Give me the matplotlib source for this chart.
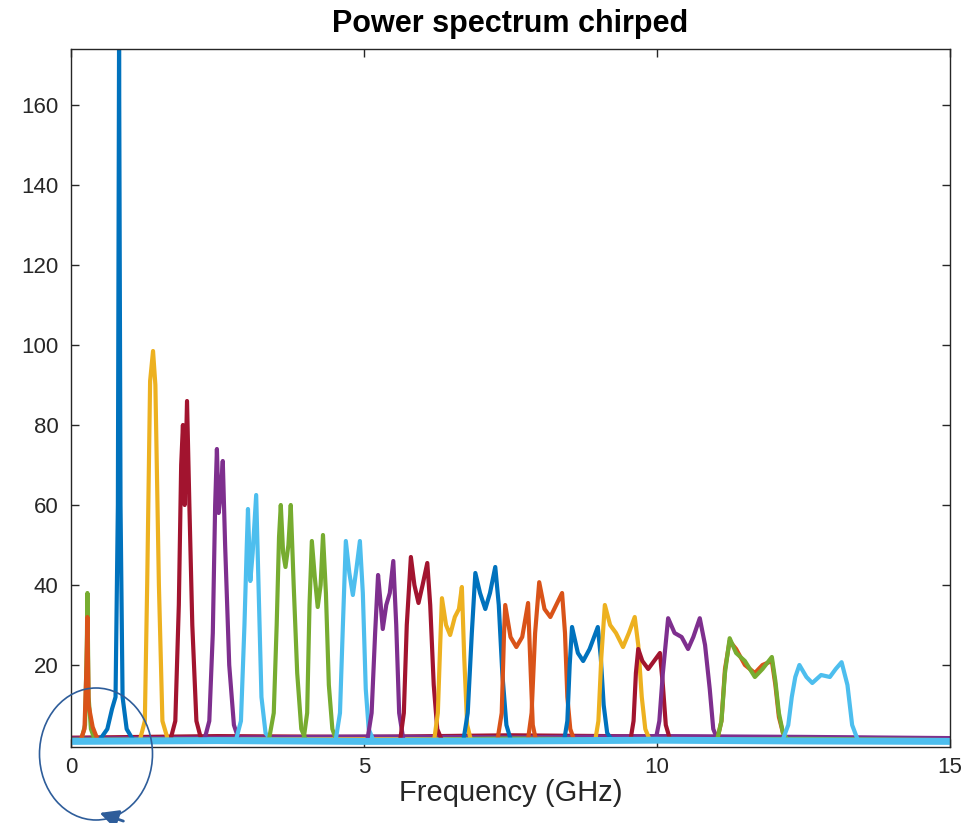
import numpy as np
import matplotlib
matplotlib.use("Agg")
import matplotlib.pyplot as plt
from matplotlib.patches import Ellipse, FancyArrowPatch

plt.rcParams['font.family'] = ['Liberation Sans', 'DejaVu Sans']

# matlab default line colours
blue = '#0072BD'
orange = '#D95319'
yellow = '#EDB120'
purple = '#7E2F8E'
green = '#77AC30'
lblue = '#4DBEEE'
red = '#A2142F'

# spectral bands: frequency (GHz) and power
b01_f = [0.18, 0.24, 0.27, 0.28, 0.30, 0.34, 0.40]
b01_p = [1.5, 5, 25, 38, 12, 4, 1.5]
b02_f = [0.17, 0.23, 0.265, 0.28, 0.30, 0.37, 0.45]
b02_p = [1.5, 4, 20, 32, 10, 4.5, 1.5]
b03_f = [0.50, 0.62, 0.70, 0.76, 0.80, 0.82, 0.845, 0.88, 0.95, 1.05]
b03_p = [1.5, 4, 9, 12, 60, 175, 60, 12, 4, 1.5]
b04_f = [1.18, 1.26, 1.30, 1.35, 1.40, 1.44, 1.50, 1.56, 1.65]
b04_p = [1.5, 6, 40, 91, 98.5, 90, 40, 6, 1.5]
b05_f = [1.70, 1.78, 1.84, 1.88, 1.91, 1.94, 1.98, 2.02, 2.07, 2.14, 2.22]
b05_p = [1.5, 6, 35, 70, 80, 60, 86, 60, 30, 6, 1.5]
b06_f = [2.28, 2.36, 2.42, 2.46, 2.49, 2.52, 2.55, 2.59, 2.63, 2.70, 2.78, 2.86]
b06_p = [1.5, 6, 28, 60, 74, 58, 62, 71, 50, 20, 5, 1.5]
b07_f = [2.82, 2.90, 2.96, 3.00, 3.02, 3.06, 3.10, 3.16, 3.20, 3.25, 3.32, 3.40]
b07_p = [1.5, 6, 30, 50, 59, 41, 48, 62.5, 40, 12, 3, 1.5]
b08_f = [3.38, 3.46, 3.51, 3.55, 3.58, 3.62, 3.66, 3.71, 3.75, 3.80, 3.86, 3.93, 4.00]
b08_p = [1.5, 8, 30, 52, 60, 48, 44.5, 50, 60, 40, 18, 4, 1.5]
b09_f = [3.97, 4.03, 4.07, 4.11, 4.16, 4.21, 4.26, 4.30, 4.35, 4.40, 4.46, 4.52]
b09_p = [1.5, 8, 35, 51, 42, 34.5, 40, 52.5, 38, 15, 4, 1.5]
b10_f = [4.52, 4.59, 4.64, 4.69, 4.75, 4.81, 4.87, 4.93, 4.98, 5.03, 5.08, 5.15]
b10_p = [1.5, 8, 30, 51, 43, 37.5, 44, 51, 38, 14, 4, 1.5]
b11_f = [5.06, 5.13, 5.19, 5.24, 5.28, 5.32, 5.38, 5.44, 5.50, 5.55, 5.60, 5.67]
b11_p = [1.5, 8, 28, 42.5, 36, 29, 35, 38, 46, 30, 8, 1.5]
b12_f = [5.62, 5.68, 5.73, 5.80, 5.86, 5.93, 6.00, 6.08, 6.13, 6.19, 6.25, 6.32]
b12_p = [1.5, 8, 30, 47, 40, 35.5, 40, 45.5, 35, 15, 4, 1.5]
b13_f = [6.20, 6.26, 6.30, 6.33, 6.40, 6.47, 6.55, 6.62, 6.67, 6.71, 6.76, 6.82]
b13_p = [1.5, 8, 25, 36.7, 30, 27.5, 32, 34, 39.5, 22, 5, 1.5]
b14_f = [6.70, 6.77, 6.84, 6.90, 6.98, 7.07, 7.15, 7.24, 7.30, 7.36, 7.43, 7.50]
b14_p = [1.5, 8, 28, 43, 38, 34, 38, 44.5, 35, 18, 5, 1.5]
b15_f = [7.28, 7.35, 7.39, 7.41, 7.50, 7.60, 7.70, 7.80, 7.84, 7.88, 7.93]
b15_p = [1.5, 8, 28, 35, 27, 24.5, 27, 35.5, 20, 5, 1.5]
b16_f = [7.80, 7.86, 7.92, 7.99, 8.08, 8.18, 8.28, 8.38, 8.43, 8.47, 8.52, 8.58]
b16_p = [1.5, 8, 28, 40.7, 34, 32, 35, 38, 28, 12, 4, 1.5]
b17_f = [8.42, 8.47, 8.51, 8.55, 8.65, 8.74, 8.85, 8.99, 9.04, 9.09, 9.15, 9.22]
b17_p = [1.5, 6, 20, 29.5, 23, 21, 24, 29.5, 22, 10, 3, 1.5]
b18_f = [8.95, 9.00, 9.05, 9.11, 9.20, 9.30, 9.42, 9.52, 9.62, 9.68, 9.74, 9.80, 9.87]
b18_p = [1.5, 6, 22, 35, 30, 28, 24.5, 28, 32, 25, 12, 4, 1.5]
b19_f = [9.55, 9.60, 9.64, 9.68, 9.75, 9.85, 9.95, 10.05, 10.10, 10.15, 10.22]
b19_p = [1.5, 6, 18, 24, 21, 19, 21, 23, 15, 5, 1.5]
b20_f = [9.98, 10.04, 10.10, 10.19, 10.30, 10.42, 10.53, 10.62, 10.73, 10.82, 10.90, 10.96, 11.03]
b20_p = [1.5, 6, 18, 31.7, 28, 27, 24, 27, 31.7, 25, 14, 4, 1.5]
b21_f = [11.03, 11.10, 11.16, 11.24, 11.35, 11.50, 11.67, 11.80, 11.96, 12.02, 12.08, 12.15, 12.22]
b21_p = [1.5, 6, 18, 26.7, 23, 21, 17, 19, 22, 16, 8, 3, 1.5]
b22_p = [1.5, 6, 19, 26.0, 24, 20, 18, 20, 21, 15, 7, 3, 1.5]
b23_f = [12.15, 12.24, 12.30, 12.36, 12.43, 12.55, 12.65, 12.80, 12.95, 13.05, 13.15, 13.25, 13.33, 13.42]
b23_p = [1.5, 5, 12, 17, 20, 17, 15.5, 17.5, 17, 19, 20.7, 15, 5, 1.5]

bands = [(b01_f, b01_p, green), (b02_f, b02_p, orange), (b03_f, b03_p, blue),
         (b04_f, b04_p, yellow), (b05_f, b05_p, red), (b06_f, b06_p, purple),
         (b07_f, b07_p, lblue), (b08_f, b08_p, green), (b09_f, b09_p, green),
         (b10_f, b10_p, lblue), (b11_f, b11_p, purple), (b12_f, b12_p, red),
         (b13_f, b13_p, yellow), (b14_f, b14_p, blue), (b15_f, b15_p, orange),
         (b16_f, b16_p, orange), (b17_f, b17_p, blue), (b18_f, b18_p, yellow),
         (b19_f, b19_p, red), (b20_f, b20_p, purple), (b21_f, b22_p, orange),
         (b21_f, b21_p, green), (b23_f, b23_p, lblue)]

# noise floor of the traces
floor_f = [0, 2.5, 5, 7.5, 10, 12.5, 15]
floor_red = [2.0, 2.4, 2.2, 2.6, 2.3, 2.0, 1.8]
floor_purple = [1.8, 2.0, 2.3, 2.1, 2.4, 2.2, 1.9]
floor_green = [1.5, 1.6, 1.4, 1.8, 1.5, 1.7, 1.4]
floor_yellow = [1.3, 1.5, 1.6, 1.4, 1.3, 1.4, 1.2]
floor_lblue = [0.9, 1.1, 0.9, 1.0, 1.2, 1.0, 0.9]

fig = plt.figure(figsize=(9.71, 8.23), dpi=100)
ax = fig.add_axes([71/971, 76/823, 879/971, 698/823])

for lev, c in [(floor_red, red), (floor_purple, purple), (floor_green, green),
               (floor_yellow, yellow)]:
    ax.plot(floor_f, lev, color=c, lw=2)

for f, p, c in bands:
    ax.plot(f, p, color=c, lw=3, solid_joinstyle='round')

ax.plot(floor_f, floor_lblue, color=lblue, lw=5)

ax.set_xlim(0, 15)
ax.set_ylim(-0.5, 174)
ax.set_xticks([0, 5, 10, 15])
ax.set_yticks(np.arange(20, 161, 20))
ax.tick_params(direction='in', top=True, right=True, length=6, width=1,
               labelsize=16, colors='#262626')
ax.tick_params(axis='x', pad=7)
ax.tick_params(axis='y', pad=9)
for s in ax.spines.values():
    s.set_color('#262626')
    s.set_linewidth(1)

ax.set_xlabel('Frequency (GHz)', fontsize=21, color='#262626', labelpad=1)
ax.set_title('Power spectrum chirped', fontsize=22, fontweight='bold', pad=12)

# hand drawn circle round the origin
circ = Ellipse((96/971, 1 - 754/823), 113/971, 132/823, transform=fig.transFigure,
               fill=False, ec='#2e5d9a', lw=1.2, zorder=10)
fig.add_artist(circ)
arr = FancyArrowPatch((126/971, 1 - 822/823), (97/971, 1 - 812/823),
                      transform=fig.transFigure, arrowstyle='-|>',
                      mutation_scale=28, color='#2e5d9a', lw=2, zorder=10)
fig.add_artist(arr)

fig.savefig('out.png', dpi=100)
